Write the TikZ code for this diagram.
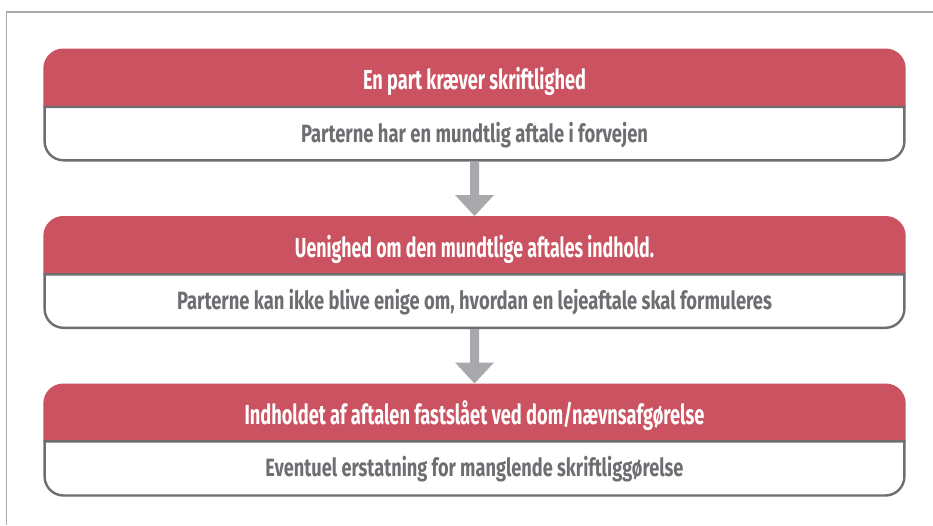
\documentclass[tikz,border=0pt]{standalone}
\usepackage{fontspec}
\setmainfont{Fira Sans}
\usetikzlibrary{calc}
\definecolor{hdrred}{HTML}{CB5260}
\definecolor{bordergray}{HTML}{6D6E71}
\definecolor{txtgray}{HTML}{6D6E71}
\definecolor{arrowgray}{HTML}{A7A9AC}
\definecolor{framegray}{HTML}{AAAAAA}
\newcommand\fitw[2]{\resizebox{#1}{\height}{#2}}
\tikzset{
  hdrtext/.style={text=white, anchor=base, inner sep=0pt,
    font=\fontsize{27.5}{30}\selectfont\bfseries},
  bodytext/.style={text=txtgray, anchor=base, inner sep=0pt,
    font=\fontsize{25}{28}\selectfont\bfseries},
  hdrfill/.style={fill=hdrred},
  bodybox/.style={fill=white, draw=bordergray, line width=2.4pt},
  flowarrow/.style={fill=arrowgray},
  framerule/.style={draw=framegray, line width=1.3pt}
}
\begin{document}
\begin{tikzpicture}[x=1pt,y=-1pt]
\useasboundingbox (0,0) rectangle (933,525);
\fill[white] (0,0) rectangle (933,525);
% frame
\draw[framerule] (6.2,525) -- (6.2,12) -- (933,12);
% boxes
\foreach \T/\S/\B/\n in {48.5/107/160.3/1, 216/274.3/327.8/2, 383.5/441.3/495.5/3}{
  \fill[hdrfill] (43.3,\S) -- (43.3,\T+20) arc[start angle=180,end angle=270,radius=20]
     -- (885.7,\T) arc[start angle=270,end angle=360,radius=20] -- (905.7,\S) -- cycle;
  \filldraw[bodybox] (44.6,\S) -- (44.6,\B-19) arc[start angle=180,end angle=90,radius=19]
     -- (885.4,\B) arc[start angle=90,end angle=0,radius=19] -- (904.4,\S) -- cycle;
  \coordinate (top\n) at (474.5,\T);
  \coordinate (bot\n) at (474.5,\B+1.2);
}
% texts
\node[hdrtext] (h1) at (474.5,89.5) {\fitw{223pt}{En part kræver skriftlighed}};
\node[bodytext] (b1) at (474.5,142) {\fitw{347pt}{Parterne har en mundtlig aftale i forvejen}};
\node[hdrtext] (h2) at (474.5,257) {\fitw{359pt}{Uenighed om den mundtlige aftales indhold.}};
\node[bodytext] (b2) at (474.5,309.3) {\fitw{595pt}{Parterne kan ikke blive enige om, hvordan en lejeaftale skal formuleres}};
\node[hdrtext] (h3) at (474.5,424.5) {\fitw{460pt}{Indholdet af aftalen fastslået ved dom/nævnsafgørelse}};
\node[bodytext] (b3) at (474.5,476.5) {\fitw{418pt}{Eventuel erstatning for manglende skriftliggørelse}};
% arrows
\foreach \a/\b in {1/2, 2/3}{
  \fill[flowarrow] ($(bot\a)+(-4.5,0)$) -- ($(bot\a)+(4.5,0)$) -- ($(top\b)+(4.5,-21)$)
    -- ($(top\b)+(19.5,-21)$) -- (top\b) -- ($(top\b)+(-19.5,-21)$) -- ($(top\b)+(-4.5,-21)$) -- cycle;
}
\end{tikzpicture}
\end{document}
